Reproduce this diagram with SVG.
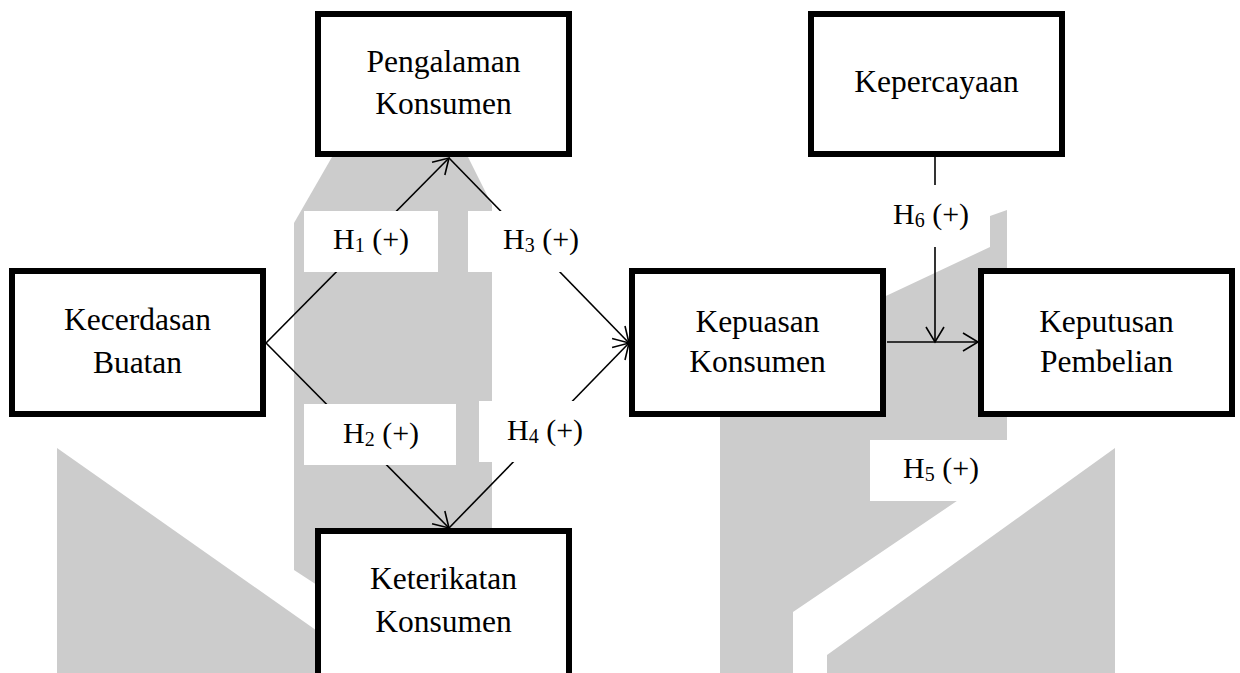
<svg xmlns="http://www.w3.org/2000/svg" width="1240" height="673" viewBox="0 0 1240 673">
  <style>
    .wm { fill: #cccccc; }
    .node rect { fill: #ffffff; stroke: #000000; stroke-width: 6; }
    .node text { font-family: "Liberation Serif", "Times New Roman", serif; font-size: 31.5px; text-anchor: middle; fill: #000000; }
    .edge { stroke: #000000; stroke-width: 1.6; fill: none; marker-end: url(#arr); }
    .lbl rect { fill: #ffffff; }
    .lbl text { font-family: "Liberation Serif", "Times New Roman", serif; font-size: 30px; fill: #000000; }
    .sub { font-size: 20px; }
  </style>
  <defs>
    <marker id="arr" markerUnits="userSpaceOnUse" markerWidth="20" markerHeight="22" viewBox="-17 -11 19 22" refX="0" refY="0" orient="auto">
      <path d="M -15 -9 L 0 0 L -15 9" fill="none" stroke="#000000" stroke-width="1.6"/>
    </marker>
  </defs>

  <rect x="0" y="0" width="1240" height="673" fill="#ffffff"/>

  <g id="watermark">
    <polygon class="wm" points="294,223 332,157 468,157 492,205 492,600 340,600 294,570"/>
    <polygon class="wm" points="57,448 330,640 330,673 57,673"/>
    <polygon class="wm" points="720,372 888,295 990,247 990,216 1007,210 1007,467 793,612 793,673 720,673"/>
    <polygon class="wm" points="1115,448 1115,673 827,673 827,655"/>
  </g>

  <g id="connectors">
    <line class="edge" x1="266" y1="343" x2="449" y2="158"/>
    <line class="edge" x1="266" y1="343" x2="449" y2="528"/>
    <line class="edge" x1="449" y1="158" x2="629" y2="343"/>
    <line class="edge" x1="449" y1="528" x2="629" y2="343"/>
    <line class="edge" x1="887" y1="342" x2="978" y2="342"/>
    <line class="edge" x1="935" y1="157" x2="935" y2="342"/>
  </g>

  <g id="label-h1" class="lbl">
    <rect x="304" y="211" width="134" height="61"/>
    <text x="333" y="249">H<tspan class="sub" dy="3">1</tspan><tspan dy="-3"> (+)</tspan></text>
  </g>
  <g id="label-h3" class="lbl">
    <rect x="468" y="211" width="137" height="61"/>
    <text x="503" y="249">H<tspan class="sub" dy="3">3</tspan><tspan dy="-3"> (+)</tspan></text>
  </g>
  <g id="label-h2" class="lbl">
    <rect x="304" y="404" width="152" height="61"/>
    <text x="343" y="443">H<tspan class="sub" dy="3">2</tspan><tspan dy="-3"> (+)</tspan></text>
  </g>
  <g id="label-h4" class="lbl">
    <rect x="479" y="401" width="131" height="61"/>
    <text x="507" y="440">H<tspan class="sub" dy="3">4</tspan><tspan dy="-3"> (+)</tspan></text>
  </g>
  <g id="label-h6" class="lbl">
    <rect x="880" y="185" width="110" height="62"/>
    <text x="893" y="224">H<tspan class="sub" dy="3">6</tspan><tspan dy="-3"> (+)</tspan></text>
  </g>
  <g id="label-h5" class="lbl">
    <rect x="870" y="440" width="137" height="61"/>
    <text x="903" y="478">H<tspan class="sub" dy="3">5</tspan><tspan dy="-3"> (+)</tspan></text>
  </g>

  <g id="node-pengalaman" class="node">
    <rect x="318" y="14" width="251" height="140"/>
    <text x="443.5" y="72">Pengalaman</text>
    <text x="443.5" y="113.5">Konsumen</text>
  </g>
  <g id="node-kecerdasan" class="node">
    <rect x="12" y="271" width="251" height="143"/>
    <text x="137.5" y="330">Kecerdasan</text>
    <text x="137.5" y="372.5">Buatan</text>
  </g>
  <g id="node-keterikatan" class="node">
    <rect x="318" y="531" width="251" height="146"/>
    <text x="443.5" y="589">Keterikatan</text>
    <text x="443.5" y="632">Konsumen</text>
  </g>
  <g id="node-kepercayaan" class="node">
    <rect x="811" y="14" width="251" height="140"/>
    <text x="936.5" y="92">Kepercayaan</text>
  </g>
  <g id="node-kepuasan" class="node">
    <rect x="632" y="271" width="251" height="143"/>
    <text x="757.5" y="331.5">Kepuasan</text>
    <text x="757.5" y="372">Konsumen</text>
  </g>
  <g id="node-keputusan" class="node">
    <rect x="981" y="271" width="251" height="143"/>
    <text x="1106.5" y="331.5">Keputusan</text>
    <text x="1106.5" y="372">Pembelian</text>
  </g>
</svg>
